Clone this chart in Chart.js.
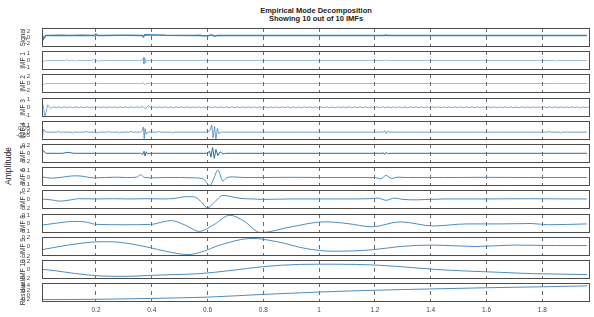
<!DOCTYPE html>
<html>
<head>
<meta charset="utf-8">
<script src="https://cdn.jsdelivr.net/npm/chart.js@4.4.0/dist/chart.umd.min.js"></script>
<style>
  body { margin: 0; background: #fff; width: 594px; height: 317px; position: relative; overflow: hidden; font-family: "Liberation Sans", Arial, sans-serif; }
  canvas { position: absolute; left: 0; }
  .ttl { position: absolute; left: 42px; width: 548px; text-align: center; font-weight: bold; font-size: 7.5px; line-height: 8px; color: #222; }
  #amp { position: absolute; left: 8px; top: 166px; font-size: 8.5px; color: #222; white-space: nowrap; transform: translate(-50%, -50%) rotate(-90deg); }
</style>
</head>
<body>
<div class="ttl" style="top:7px">Empirical Mode Decomposition</div>
<div class="ttl" style="top:15px">Showing 10 out of 10 IMFs</div>
<div id="amp">Amplitude</div>
<script>
// panel names, top to bottom
const panelNames = ['Signal', 'IMF 1', 'IMF 2', 'IMF 3', 'IMF 4', 'IMF 5', 'IMF 6', 'IMF 7', 'IMF 8', 'IMF 9', 'IMF 10', 'Residual']

// time axis
const xTicks = [0.2, 0.4, 0.6, 0.8, 1, 1.2, 1.4, 1.6, 1.8]
const X_MIN = 0.0065
const X_MAX = 1.971

// y ticks and limits per panel
const yTicks = [
    [-2, 0, 2], [-1, 0, 1], [-2, 0, 2], [-1, 0, 1], [-0.05, 0, 0.05, 0.1], [-0.2, 0, 0.2],
    [-0.1, 0, 0.1], [-0.2, 0, 0.2], [-0.1, 0, 0.1], [-0.2, 0, 0.2], [-0.2, 0, 0.2], [-0.2, 0, 0.2, 0.4]
]
const yLimits = [
    [-3.2, 3.2], [-1.3, 1.3], [-2.8, 2.8], [-1.2, 1.15], [-0.11, 0.155], [-0.25, 0.24],
    [-0.125, 0.155], [-0.225, 0.2], [-0.115, 0.115], [-0.2, 0.2], [-0.21, 0.22], [-0.3, 0.5]
]

// series
const signalX = [0.005, 0.012, 0.02, 0.08, 0.1, 0.15, 0.195, 0.2, 0.205, 0.3, 0.365, 0.37, 0.375, 0.45, 0.55, 0.575, 0.58, 0.6, 0.615, 0.625, 0.635, 0.7, 0.9, 1.1, 1.235, 1.24, 1.245, 1.4, 1.6, 1.8, 1.85, 1.96]
const signalY = [1.8, -0.5, 0.7, 0.75, 0.65, 0.75, 0.7, 1.1, 0.7, 0.72, 0.7, 0.2, 0.9, 0.72, 0.7, 0.72, 0.55, 0.6, 0.85, 0.45, 0.65, 0.65, 0.68, 0.65, 0.65, 0.8, 0.65, 0.66, 0.64, 0.66, 0.7, 0.66]

const imf1X = [0.005, 0.01, 0.02, 0.09, 0.095, 0.1, 0.12, 0.125, 0.13, 0.185, 0.19, 0.195, 0.205, 0.21, 0.215, 0.365, 0.37, 0.372, 0.375, 0.378, 0.38, 1.235, 1.24, 1.245, 1.845, 1.85, 1.855, 1.96]
const imf1Y = [0.3, -0.2, 0, 0, 0.12, 0, 0, -0.1, 0, 0, 0.15, 0, 0, -0.15, 0, 0, 0.4, -0.45, 0.35, -0.3, 0, 0, 0.08, 0, 0, -0.08, 0, 0]

const imf2X = [0.005, 0.01, 0.02, 0.195, 0.2, 0.205, 0.365, 0.37, 0.375, 0.38, 1.845, 1.85, 1.855, 1.96]
const imf2Y = [0.6, -0.3, 0, 0, 0.25, 0, 0, 0.3, -0.35, 0, 0, 0.1, 0, 0]

// IMF 3 is sampled every 0.01 s
const imf3Start = 0.007
const imf3Step = 0.01
const imf3Y = [
    0.9, -1.1, 0.3, -0.12, 0.07, -0.05, 0.06, -0.05, 0.055, -0.06,
    0.05, -0.04, 0.06, -0.055, 0.045, -0.05, 0.065, -0.05, 0.04, -0.06,
    0.055, -0.045, 0.05, -0.065, 0.06, -0.04, 0.05, -0.055, 0.045, -0.05,
    0.06, -0.05, 0.055, -0.045, 0.065, -0.06, 0.12, -0.2, 0.22, -0.09,
    0.05, -0.055, 0.045, -0.05, 0.06, -0.04, 0.05, -0.06, 0.055, -0.045,
    0.05, -0.05, 0.06, -0.055, 0.04, -0.05, 0.065, -0.045, 0.05, -0.06,
    0.055, -0.05, 0.07, -0.06, 0.05, -0.04, 0.045, -0.05, 0.06, -0.055,
    0.05, -0.045, 0.055, -0.06, 0.05, -0.05, 0.04, -0.055, 0.06, -0.045,
    0.05, -0.06, 0.055, -0.05, 0.045, -0.05, 0.06, -0.04, 0.05, -0.055,
    0.06, -0.05, 0.045, -0.06, 0.05, -0.045, 0.055, -0.05, 0.06, -0.055,
    0.045, -0.05, 0.065, -0.05, 0.04, -0.06, 0.055, -0.045, 0.05, -0.055,
    0.06, -0.05, 0.05, -0.045, 0.055, -0.06, 0.05, -0.05, 0.045, -0.055,
    0.06, -0.065, 0.075, -0.05, 0.05, -0.045, 0.055, -0.05, 0.06, -0.055,
    0.045, -0.05, 0.06, -0.04, 0.05, -0.055, 0.055, -0.05, 0.045, -0.06,
    0.05, -0.045, 0.06, -0.05, 0.055, -0.055, 0.04, -0.05, 0.06, -0.045,
    0.05, -0.06, 0.055, -0.05, 0.045, -0.05, 0.06, -0.04, 0.05, -0.055,
    0.06, -0.05, 0.045, -0.06, 0.05, -0.045, 0.055, -0.05, 0.06, -0.055,
    0.045, -0.05, 0.065, -0.05, 0.04, -0.06, 0.055, -0.045, 0.05, -0.055,
    0.06, -0.05, 0.05, -0.045, 0.055, -0.06, 0.05, -0.05, 0.045, -0.055,
    0.06, -0.05, 0.05, -0.06, 0.055, -0.05, 0.03
]
const imf3X = imf3Y.map((v, i) => imf3Start + i * imf3Step)

const imf4X = [0.005, 0.008, 0.012, 0.02, 0.06, 0.065, 0.07, 0.11, 0.115, 0.12, 0.16, 0.165, 0.17, 0.2, 0.205, 0.21, 0.24, 0.245, 0.25, 0.28, 0.285, 0.29, 0.32, 0.325, 0.33, 0.36, 0.365, 0.37, 0.373, 0.376, 0.38, 0.385, 0.42, 0.425, 0.43, 0.47, 0.475, 0.48, 0.6, 0.61, 0.615, 0.62, 0.625, 0.63, 0.635, 0.64, 0.65, 1.23, 1.235, 1.24, 1.245, 1.25, 1.82, 1.825, 1.83, 1.86, 1.865, 1.87, 1.96]
const imf4Y = [0.09, -0.06, 0.04, 0, 0, 0.012, 0, 0, -0.012, 0, 0, 0.012, 0, 0, -0.012, 0, 0, 0.012, 0, 0, -0.012, 0, 0, 0.012, 0, 0, 0.02, 0.07, -0.09, 0.05, -0.03, 0, 0, 0.012, 0, 0, -0.012, 0, 0, 0.03, 0.1, -0.08, 0.08, -0.1, 0.05, -0.02, 0, 0, 0.02, -0.02, 0.015, 0, 0, 0.012, 0, 0, -0.012, 0, 0]

const imf5X = [0.005, 0.01, 0.02, 0.08, 0.1, 0.12, 0.36, 0.368, 0.372, 0.376, 0.38, 0.385, 0.39, 0.6, 0.607, 0.612, 0.618, 0.624, 0.63, 0.637, 0.645, 0.655, 0.665, 1.225, 1.23, 1.235, 1.24, 1.245, 1.25, 1.96]
const imf5Y = [-0.15, 0.08, 0, 0, 0.025, 0, 0, -0.03, 0.05, -0.07, 0.04, -0.02, 0, 0, 0.06, -0.1, 0.15, -0.13, 0.1, -0.06, 0.04, -0.015, 0, 0, 0.015, -0.03, 0.025, -0.01, 0, 0]

const imf6X = [0.005, 0.04, 0.08, 0.12, 0.15, 0.19, 0.23, 0.27, 0.31, 0.345, 0.36, 0.375, 0.4, 0.45, 0.5, 0.55, 0.585, 0.6, 0.608, 0.62, 0.637, 0.655, 0.67, 0.69, 0.73, 0.8, 0.9, 1.0, 1.1, 1.2, 1.22, 1.24, 1.26, 1.28, 1.32, 1.45, 1.6, 1.75, 1.9, 1.96]
const imf6Y = [0.01, -0.01, 0.005, 0.025, 0.02, -0.005, 0, 0.005, 0, 0.005, 0.04, 0, -0.005, 0, 0, -0.005, -0.02, -0.09, -0.12, -0.04, 0.11, -0.05, 0, 0.01, 0, 0, 0.003, 0, 0, 0, -0.02, 0.03, -0.015, 0.005, 0, 0, 0.003, 0, 0, 0]

const imf7X = [0.005, 0.04, 0.07, 0.1, 0.14, 0.2, 0.26, 0.32, 0.38, 0.44, 0.48, 0.52, 0.55, 0.575, 0.6, 0.625, 0.655, 0.685, 0.72, 0.76, 0.8, 0.9, 1.0, 1.1, 1.18, 1.21, 1.24, 1.27, 1.3, 1.35, 1.45, 1.6, 1.75, 1.9, 1.96]
const imf7Y = [0, -0.02, -0.05, -0.03, 0.005, 0, 0.005, 0, 0.005, 0, 0.01, 0.05, 0.05, -0.05, -0.2, -0.07, 0.08, 0.05, 0.01, 0, -0.01, 0, 0, 0, 0.005, 0.02, -0.03, 0.02, -0.01, -0.02, 0, 0, 0.005, 0, 0]

const imf8X = [0.005, 0.06, 0.12, 0.16, 0.2, 0.3, 0.4, 0.44, 0.47, 0.52, 0.57, 0.62, 0.68, 0.73, 0.79, 0.9, 1.02, 1.1, 1.19, 1.29, 1.41, 1.53, 1.65, 1.76, 1.82, 1.96]
const imf8Y = [-0.02, 0.005, 0.025, 0.02, -0.01, -0.015, -0.01, 0.02, 0.035, -0.02, -0.095, -0.02, 0.1, 0.03, -0.11, -0.04, 0.02, 0, -0.04, 0.02, -0.03, -0.005, -0.005, 0, -0.015, -0.005]

const imf9X = [0.005, 0.1, 0.215, 0.25, 0.32, 0.39, 0.45, 0.53, 0.57, 0.65, 0.76, 0.85, 0.95, 1.05, 1.19, 1.29, 1.41, 1.56, 1.7, 1.85, 1.96]
const imf9Y = [-0.07, 0.03, 0.1, 0.1, 0.06, -0.02, -0.1, -0.17, -0.13, 0.04, 0.17, 0.1, -0.04, -0.1, -0.07, 0, 0.03, 0, 0.03, 0.02, 0.02]

const imf10X = [0.005, 0.05, 0.13, 0.215, 0.3, 0.39, 0.48, 0.57, 0.68, 0.8, 0.93, 1.05, 1.13, 1.22, 1.29, 1.41, 1.53, 1.65, 1.77, 1.87, 1.96]
const imf10Y = [0.01, -0.02, -0.09, -0.14, -0.15, -0.13, -0.11, -0.09, -0.02, 0.07, 0.12, 0.125, 0.12, 0.1, 0.07, 0.01, -0.03, -0.06, -0.09, -0.1, -0.11]

const residualX = [0.005, 0.1, 0.2, 0.3, 0.4, 0.5, 0.6, 0.7, 0.8, 0.9, 1.0, 1.1, 1.2, 1.3, 1.4, 1.5, 1.6, 1.7, 1.8, 1.9, 1.96]
const residualY = [-0.2, -0.195, -0.185, -0.17, -0.15, -0.125, -0.095, -0.04, 0.02, 0.07, 0.12, 0.16, 0.195, 0.225, 0.25, 0.275, 0.3, 0.32, 0.34, 0.365, 0.38]

const seriesX = [signalX, imf1X, imf2X, imf3X, imf4X, imf5X, imf6X, imf7X, imf8X, imf9X, imf10X, residualX]
const seriesY = [signalY, imf1Y, imf2Y, imf3Y, imf4Y, imf5Y, imf6Y, imf7Y, imf8Y, imf9Y, imf10Y, residualY]

// look
const FONT = "'Liberation Sans', Arial, sans-serif"
const lineColors = ['#3f7fb3', 'rgba(60,130,190,0.5)', 'rgba(60,130,190,0.5)', '#5a93c2', 'rgba(50,120,180,0.7)', '#2a6fa5',
    '#4d8cbf', '#4d8cbf', '#4d8cbf', '#4d8cbf', '#4d8cbf', '#4d8cbf']
const lineWidths = [1.5, 1, 1, 0.8, 1, 1, 1, 1, 1, 1, 1, 1]
const smooth = [false, false, false, false, false, false, true, true, true, true, true, true]

const boxPlugin = {
    id: 'panelBox',
    afterDatasetsDraw(chart, args, opts) {
        const { ctx, chartArea: a } = chart
        ctx.save()
        ctx.strokeStyle = '#4d4d4d'
        ctx.lineWidth = 1
        ctx.strokeRect(a.left + 0.5, a.top + 0.5, a.right - a.left - 1, a.bottom - a.top - 1)
        ctx.fillStyle = '#333'
        ctx.font = '6.5px ' + FONT
        ctx.textAlign = 'center'
        ctx.textBaseline = 'middle'
        ctx.translate(23, (a.top + a.bottom) / 2)
        ctx.rotate(-Math.PI / 2)
        ctx.fillText(opts.label, 0, 0)
        ctx.restore()
    }
}

panelNames.forEach((name, i) => {
    const last = i === panelNames.length - 1
    const top = 28 + Math.round(i * 23.2)
    const padTop = 10
    const bottomExtra = last ? 16 : 10
    const cv = document.createElement('canvas')
    cv.width = 594
    cv.height = padTop + 19 + bottomExtra
    cv.style.top = (top - padTop) + 'px'
    document.body.appendChild(cv)

    const points = seriesX[i].map((x, k) => ({ x: x, y: seriesY[i][k] }))

    new Chart(cv, {
        type: 'line',
        data: {
            datasets: [{
                data: points,
                borderColor: lineColors[i],
                borderWidth: lineWidths[i],
                pointRadius: 0,
                tension: smooth[i] ? 0.4 : 0,
                cubicInterpolationMode: smooth[i] ? 'monotone' : 'default'
            }]
        },
        options: {
            responsive: false,
            animation: false,
            events: [],
            layout: { padding: { top: padTop, right: 4, left: 0, bottom: 0 } },
            plugins: {
                legend: { display: false },
                tooltip: { enabled: false },
                panelBox: { label: name }
            },
            scales: {
                x: {
                    type: 'linear',
                    min: X_MIN,
                    max: X_MAX,
                    afterBuildTicks: s => { s.ticks = xTicks.map(v => ({ value: v })) },
                    afterFit: s => { s.height = bottomExtra },
                    ticks: { display: last, padding: 4, autoSkip: false, maxRotation: 0, color: '#444', font: { size: 6.5, family: FONT }, callback: v => String(v) },
                    grid: { color: '#6a6a6a', lineWidth: 1, drawTicks: false },
                    border: { display: false, dash: [4, 4] }
                },
                y: {
                    min: yLimits[i][0],
                    max: yLimits[i][1],
                    afterBuildTicks: s => { s.ticks = yTicks[i].map(v => ({ value: v })) },
                    afterFit: s => { s.width = 42 },
                    ticks: { padding: 4, autoSkip: false, color: '#444', font: { size: 6, family: FONT }, callback: v => String(v) },
                    grid: { display: false },
                    border: { display: false }
                }
            }
        },
        plugins: [boxPlugin]
    })
})
</script>
</body>
</html>
